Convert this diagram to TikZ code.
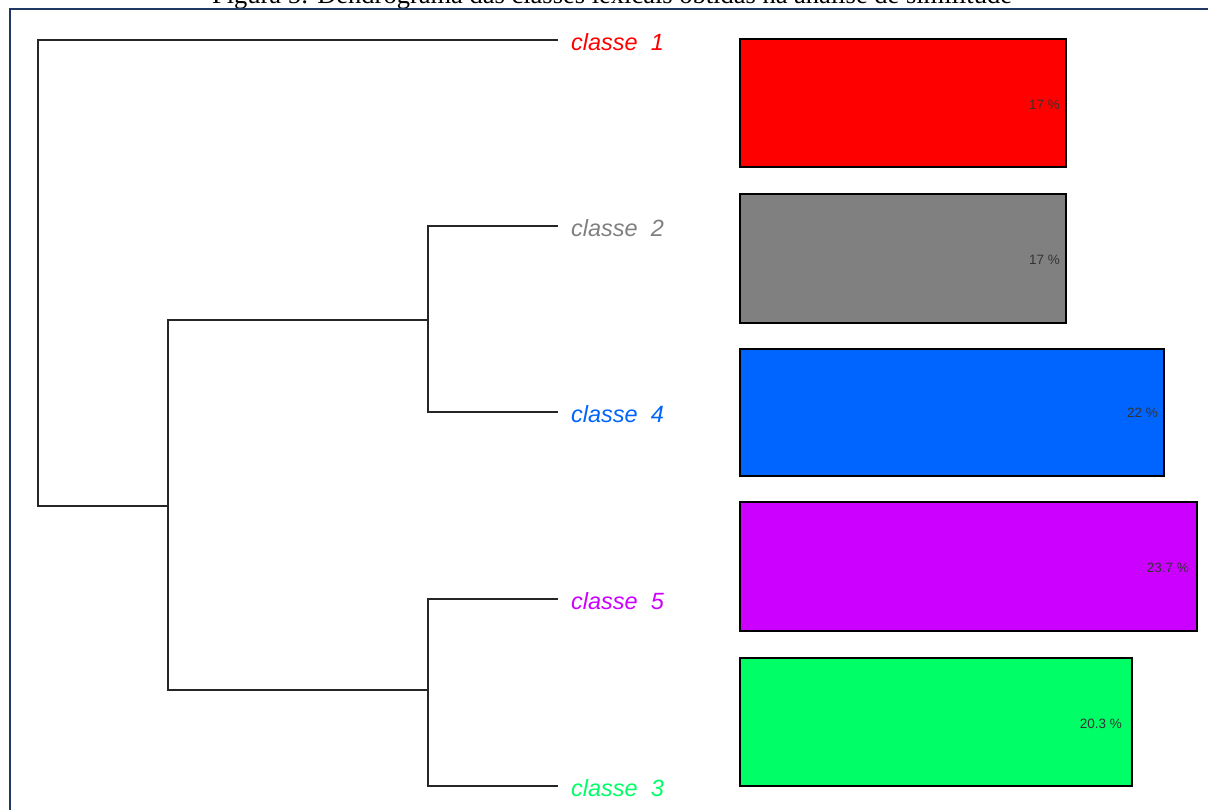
\documentclass[tikz,border=0pt]{standalone}
\usepackage{fontspec}
\setmainfont{Liberation Serif}
\setsansfont{Liberation Sans}
\usetikzlibrary{positioning}
\definecolor{FrameBlue}{RGB}{31,56,100}
\definecolor{ClassRed}{RGB}{255,0,0}
\definecolor{ClassGray}{RGB}{128,128,128}
\definecolor{ClassBlue}{RGB}{0,100,255}
\definecolor{ClassPurple}{RGB}{204,0,255}
\definecolor{ClassGreen}{RGB}{0,255,102}

\begin{document}
\begin{tikzpicture}[x=1pt, y=-1pt,
		branch/.style={line width=1.4pt, black!85},
		leaflabel/.style={anchor=west, inner sep=0pt, yshift=-2pt, font=\sffamily\itshape\fontsize{23.5}{23.5}\selectfont},
		bar/.style={draw=black, line width=1.2pt},
		pct/.style={anchor=east, inner sep=0pt, text=black!80, font=\sffamily\fontsize{13.5}{13.5}\selectfont}]
		\useasboundingbox (0,0) rectangle (1208,809);
		\clip (0,0) rectangle (1208,809);
		% moldura e título
		\node[anchor=base, font=\fontsize{26.5}{26.5}\selectfont] (titulo) at (612,3) {Figura 5: Dendrograma das classes lexicais obtidas na análise de similitude};
		\draw[FrameBlue, line width=2pt] (10,9) rectangle (1220,830);
		% folhas
		\coordinate (f1) at (558,40);
		\coordinate (f2) at (558,226);
		\coordinate (f4) at (558,412);
		\coordinate (f5) at (558,599);
		\coordinate (f3) at (558,786);
		% junções
		\coordinate (j24) at (428,320);
		\coordinate (j53) at (428,690);
		\coordinate (jb) at (168,506);
		\coordinate (raiz) at (38,40);
		% dendrograma
		\draw[branch] (f2) -- (f2 -| j24) -- (f4 -| j24) -- (f4);
		\draw[branch] (f5) -- (f5 -| j53) -- (f3 -| j53) -- (f3);
		\draw[branch] (j24) -- (j24 -| jb) -- (j53 -| jb) -- (j53);
		\draw[branch] (f1) -- (raiz) -- (jb -| raiz) -- (jb);
		% rótulos das classes
		\node[leaflabel, text=ClassRed, right=13pt of f1] (c1) {classe\ \ 1};
		\node[leaflabel, text=ClassGray, right=13pt of f2] (c2) {classe\ \ 2};
		\node[leaflabel, text=ClassBlue, right=13pt of f4] (c4) {classe\ \ 4};
		\node[leaflabel, text=ClassPurple, right=13pt of f5] (c5) {classe\ \ 5};
		\node[leaflabel, text=ClassGreen, right=13pt of f3] (c3) {classe\ \ 3};
		% barras
		\draw[bar, fill=ClassRed] (740,39) rectangle (1066,167);
		\draw[bar, fill=ClassGray] (740,194) rectangle (1066,323);
		\draw[bar, fill=ClassBlue] (740,349) rectangle (1164,476);
		\draw[bar, fill=ClassPurple] (740,502) rectangle (1197,631);
		\draw[bar, fill=ClassGreen] (740,658) rectangle (1132,786);
		\node[pct] (p1) at (1060,105) {17 \%};
		\node[pct] (p2) at (1060,260) {17 \%};
		\node[pct] (p4) at (1158,413) {22 \%};
		\node[pct] (p5) at (1189,568) {23.7 \%};
		\node[pct] (p3) at (1122,724) {20.3 \%};
	\end{tikzpicture}
\end{document}
